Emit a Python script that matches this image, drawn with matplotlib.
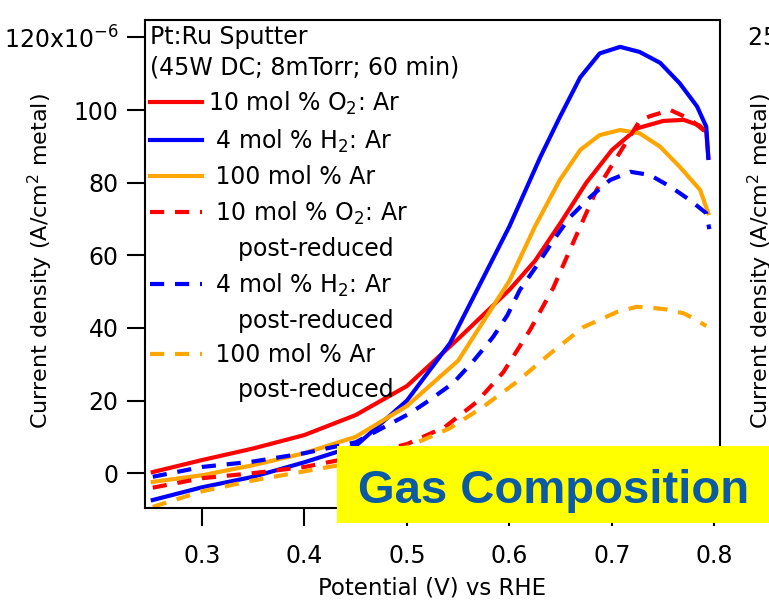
"""Pt:Ru sputter - current density vs potential for different gas compositions."""

import matplotlib.pyplot as plt
from matplotlib.lines import Line2D
from matplotlib.patches import Rectangle

# --- data (current density in 1e-6 A/cm^2 metal) ---
pot_o2 = [0.252, 0.30, 0.35, 0.40, 0.45, 0.50, 0.55, 0.60, 0.625, 0.65, 0.675,
          0.70, 0.725, 0.75, 0.77, 0.785, 0.792, 0.794]
j_o2 = [0.3, 3.6, 6.8, 10.5, 16.0, 24.0, 37.0, 50.5, 58.5, 69.0, 80.0,
        89.0, 95.0, 97.0, 97.3, 95.8, 94.0, 87.0]

pot_h2 = [0.252, 0.30, 0.35, 0.40, 0.45, 0.50, 0.542, 0.60, 0.63, 0.649, 0.669,
          0.688, 0.708, 0.727, 0.747, 0.766, 0.783, 0.792, 0.794]
j_h2 = [-7.4, -3.9, -1.0, 3.0, 7.5, 20.0, 35.8, 68.0, 87.0, 98.0, 109.0,
        115.6, 117.4, 116.0, 113.0, 107.4, 101.0, 95.4, 86.8]

pot_ar = [0.252, 0.30, 0.35, 0.40, 0.45, 0.50, 0.55, 0.60, 0.625, 0.649, 0.669,
          0.688, 0.708, 0.727, 0.747, 0.766, 0.786, 0.794]
j_ar = [-2.4, -0.6, 2.2, 5.5, 10.0, 18.5, 31.0, 53.0, 68.0, 80.7, 89.0,
        93.1, 94.5, 93.6, 89.9, 84.4, 78.0, 71.6]

pot_o2_red = [0.252, 0.30, 0.35, 0.40, 0.45, 0.50, 0.537, 0.568, 0.594, 0.620,
              0.643, 0.664, 0.685, 0.711, 0.727, 0.737, 0.757, 0.776, 0.793]
j_o2_red = [-4.0, -1.4, 0.0, 1.7, 4.5, 8.0, 12.7, 19.6, 27.8, 39.4,
            51.2, 64.7, 78.0, 89.8, 97.0, 98.3, 100.0, 97.5, 93.6]

pot_h2_red = [0.252, 0.30, 0.35, 0.40, 0.45, 0.503, 0.522, 0.545, 0.564, 0.584,
              0.598, 0.610, 0.627, 0.643, 0.659, 0.679, 0.698, 0.718, 0.737,
              0.757, 0.776, 0.792, 0.795]
j_h2_red = [-1.0, 1.7, 3.2, 5.5, 8.5, 16.5, 20.1, 24.8, 30.6, 37.5,
            43.5, 50.4, 57.3, 64.2, 70.5, 76.1, 80.7, 83.0, 82.1,
            78.9, 75.2, 71.6, 67.2]

pot_ar_red = [0.252, 0.30, 0.35, 0.40, 0.45, 0.50, 0.542, 0.574, 0.607, 0.640,
              0.672, 0.705, 0.724, 0.737, 0.753, 0.770, 0.783, 0.792]
j_ar_red = [-9.3, -5.0, -2.0, 0.5, 3.0, 7.2, 12.4, 18.2, 25.1, 33.0,
            40.2, 44.4, 45.8, 45.6, 45.1, 44.0, 42.1, 40.5]

labels = ['10 mol % O$_2$: Ar', ' 4 mol % H$_2$: Ar', ' 100 mol % Ar',
          ' 10 mol % O$_2$: Ar', ' 4 mol % H$_2$: Ar', ' 100 mol % Ar']
x_ticks = [0.3, 0.4, 0.5, 0.6, 0.7, 0.8]
y_ticks = [0, 20, 40, 60, 80, 100, 120]
y_ticklabels = ['0', '20', '40', '60', '80', '100', '120x10$^{-6}$']

RED, BLUE, ORANGE = '#ff0000', '#0000ff', '#ffa500'
DASH = (0, (3.4, 2.6))
LW = 3.0
FS = 17

plt.rcParams['font.family'] = 'DejaVu Sans'

fig = plt.figure(figsize=(7.69, 6.01), dpi=100)
ax = fig.add_axes([145 / 769, 93 / 601, 575 / 769, 488 / 601])

series = [
    (pot_o2, j_o2, RED, '-'),
    (pot_h2, j_h2, BLUE, '-'),
    (pot_ar, j_ar, ORANGE, '-'),
    (pot_o2_red, j_o2_red, RED, DASH),
    (pot_h2_red, j_h2_red, BLUE, DASH),
    (pot_ar_red, j_ar_red, ORANGE, DASH),
]
lines = []
for (xs, ys, color, ls), lab in zip(series, labels):
    ln, = ax.plot(xs, ys, color=color, linestyle=ls, lw=LW, label=lab)
    lines.append(ln)

ax.set_xlim(0.2444, 0.8054)
ax.set_ylim(-9.6, 124.8)
ax.set_xticks(x_ticks, [f'{t:.1f}' for t in x_ticks])
ax.set_yticks(y_ticks, y_ticklabels)
ax.tick_params(direction='out', length=13, width=1.5, labelsize=FS, pad=6)
ax.tick_params(axis='x', pad=13)
for sp in ax.spines.values():
    sp.set_linewidth(1.5)

ax.set_xlabel('Potential (V) vs RHE', fontsize=16.5)
ax.xaxis.set_label_coords(0.499, -0.14)
ax.set_ylabel('Current density (A/cm$^{2}$ metal)', fontsize=16)
ax.yaxis.set_label_coords(-0.1565, 0.506)

# legend: dashed entries get a second "post-reduced" row with no handle
blank = Line2D([], [], linestyle='none')
handles = lines[:4] + [blank, lines[4], blank, lines[5], blank]
leg_labels = labels[:4] + ['    post-reduced', labels[4], '    post-reduced',
                           labels[5], '    post-reduced']
leg = ax.legend(handles, leg_labels, loc='upper left', bbox_to_anchor=(0.0, 1.0),
                frameon=False, fontsize=FS,
                title='Pt:Ru Sputter\n(45W DC; 8mTorr; 60 min)',
                title_fontsize=FS, alignment='left', handlelength=2.2,
                handletextpad=0.25, labelspacing=0.44, borderpad=0.1,
                borderaxespad=0.1)
leg.get_title().set_linespacing(1.35)

# partial neighbouring panel cut off at the right edge
fig.text(747 / 769, 1 - 38 / 601, '250x10$^{-6}$', fontsize=FS, va='center', ha='left')
fig.text(760 / 769, 1 - 261 / 601, 'Current density (A/cm$^{2}$ metal)',
         fontsize=16, rotation=90, ha='center', va='center')

# yellow banner
fig.patches.append(Rectangle((337 / 769, 78 / 601), 432 / 769, 77 / 601,
                             transform=fig.transFigure, facecolor='#ffff00',
                             edgecolor='none', zorder=10))
fig.text(554 / 769, 1 - 503 / 601, 'Gas Composition', fontsize=34,
         fontweight='bold', family='Liberation Sans', color='#0b5aa6',
         ha='center', va='baseline', zorder=11)

fig.savefig('out.png', dpi=100)
plt.close()
